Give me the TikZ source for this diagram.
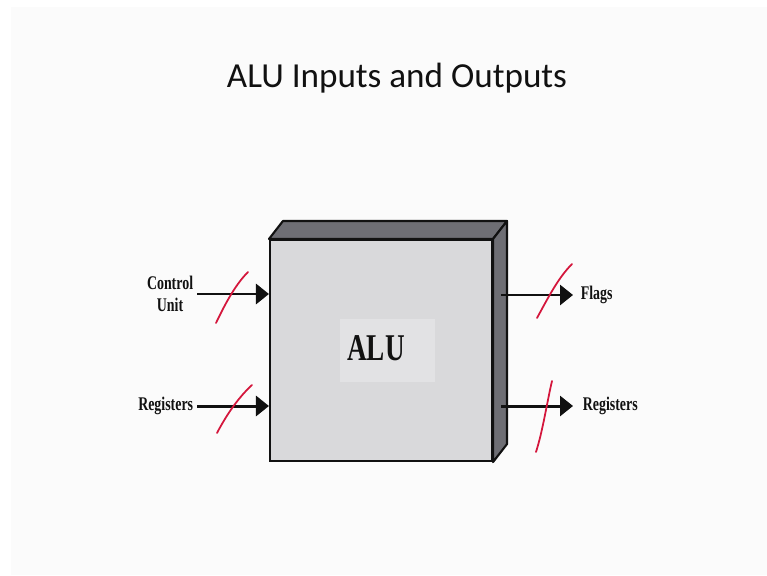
\documentclass[tikz,border=0pt]{standalone}
\usepackage{fontspec}
\setmainfont{Liberation Serif}
\newfontfamily\titlefont{Carlito}
\usetikzlibrary{arrows.meta,positioning,calc}
\definecolor{Ink}{HTML}{111111}
\definecolor{Paper}{HTML}{FBFBFB}
\definecolor{Face}{HTML}{D9D9DB}
\definecolor{FaceLight}{HTML}{E2E2E4}
\definecolor{Side}{HTML}{6E6E74}
\definecolor{Pen}{HTML}{D4163C}
\newcommand{\squeeze}[1]{\scalebox{0.72}[1]{#1}}
\tikzset{
  lbl/.style={font=\bfseries\fontsize{11}{12.5}\selectfont,text=Ink,inner sep=2pt},
  sig/.style={-{Triangle[length=0.26cm,width=0.4cm]},draw=Ink,line width=1.7pt},
  slash/.style={draw=Pen,line width=1pt,line cap=round}
}
\begin{document}
\begin{tikzpicture}[x=0.02cm,y=-0.02cm]
\fill[white] (0,0) rectangle (767,575);
\fill[Paper] (11,7) rectangle (767,575);
\useasboundingbox (0,0) rectangle (767,575);
\node[font=\titlefont\fontsize{20}{24}\selectfont,text=Ink] (title) at (397,78) {ALU Inputs and Outputs};
% box
\node[draw=Ink,fill=Face,line width=1.2pt,minimum width=4.44cm,minimum height=4.42cm,inner sep=0pt] (alu) at (381,350.5) {};
\draw[fill=Side,draw=Ink,line width=1.2pt,line join=round] (alu.north west) -- ++(14,-18) -- ([shift={(14,-18)}]alu.north east) -- (alu.north east) -- cycle;
\draw[fill=Side,draw=Ink,line width=1.2pt,line join=round] (alu.north east) -- ++(14,-18) -- ([shift={(14,-18)}]alu.south east) -- (alu.south east) -- cycle;
\fill[FaceLight] (340,319) rectangle (435,382);
\node[font=\bfseries\fontsize{21.5}{24}\selectfont,text=Ink] (alutext) at (376,348) {\squeeze{ALU}};
% inputs
\node[lbl,align=center,anchor=east] (cu) at (197,294) {\squeeze{Control}\\\squeeze{Unit}};
\node[lbl,anchor=east] (rin) at (197,406) {\squeeze{Registers}};
\draw[sig] (cu.east) -- (cu.east -| alu.west);
\draw[sig] (rin.east) -- (rin.east -| alu.west);
% outputs
\node[lbl,anchor=west] (fl) at (577,295) {\squeeze{Flags}};
\node[lbl,anchor=west] (rout) at (579,406) {\squeeze{Registers}};
\draw[sig] ($(alu.east |- fl.west)+(8,0)$) -- ([xshift=-0.08cm]fl.west);
\draw[sig] ($(alu.east |- rout.west)+(8,0)$) -- ([xshift=-0.12cm]rout.west);
% pen marks
\draw[slash] (216,323) .. controls (226,302) and (236,284) .. (248,272);
\draw[slash] (217,433) .. controls (228,412) and (240,396) .. (252,385);
\draw[slash] (537,318) .. controls (548,298) and (558,278) .. (572,264);
\draw[slash] (536,452) .. controls (543,430) and (547,402) .. (552,381);
\end{tikzpicture}
\end{document}
